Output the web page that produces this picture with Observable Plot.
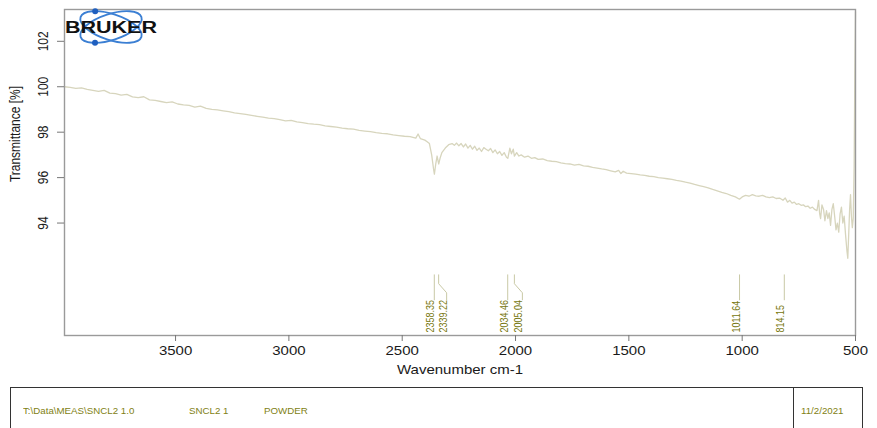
<!DOCTYPE html>
<html><head><meta charset="utf-8">
<script src="https://cdn.jsdelivr.net/npm/d3@7"></script>
<script src="https://cdn.jsdelivr.net/npm/@observablehq/plot@0.6"></script>
<style>
body{margin:0;background:#fff;font-family:"Liberation Sans",Arial,sans-serif;}
#wrap{position:relative;width:877px;height:428px;overflow:hidden;}
#footer{position:absolute;left:10px;top:387px;width:853px;height:60px;border:1px solid #333;border-bottom:none;box-sizing:border-box;}
#footer .sep{position:absolute;left:782px;top:0;bottom:0;border-left:1px solid #333;}
#footer span{position:absolute;top:18px;font-size:9px;line-height:10px;color:#7f7f14;white-space:pre;transform-origin:0 50%;transform:scaleX(1.08);}
</style></head><body>
<div id="wrap"><div id="chart"></div><div id="footer"><div class="sep"></div></div></div>
<script>
// ---- data ----
const wavenumber = [3990,3965,3940,3915,3890,3865,3840,3815,3790,3765,3740,3715,3690,3665,3640,3615,3590,3565,3540,3515,3490,3465,3440,3415,3390,3365,3340,3315,3290,3265,3240,3215,3190,3165,3140,3115,3090,3065,3040,3015,2990,2965,2940,2915,2890,2865,2840,2815,2790,2765,2740,2715,2690,2665,2640,2615,2590,2565,2540,2515,2490,2465,2440,2430,2420,2400,2390,2380,2370,2362,2358,2352,2346,2342,2339,2333,2325,2310,2295,2280,2270,2260,2250,2240,2230,2220,2210,2200,2190,2180,2170,2160,2150,2140,2130,2120,2110,2100,2090,2080,2070,2060,2050,2040,2034,2025,2018,2010,2005,1995,1985,1975,1960,1945,1930,1915,1900,1880,1860,1840,1820,1800,1780,1760,1740,1720,1700,1680,1660,1640,1620,1600,1580,1560,1545,1535,1525,1510,1490,1470,1450,1430,1410,1390,1370,1350,1330,1310,1290,1270,1250,1230,1210,1190,1170,1150,1130,1110,1090,1070,1050,1030,1012,1000,985,970,955,940,925,910,895,880,865,850,835,820,810,800,790,780,770,760,750,740,730,720,710,700,690,680,670,663,658,654,648,641,635,628,622,616,610,604,598,592,586,580,574,568,562,556,550,544,538,534,530,526,522,518,514,510,506,503,500];
const transmittance = [100.00,99.97,99.93,99.95,99.88,99.84,99.80,99.84,99.72,99.70,99.63,99.66,99.55,99.52,99.56,99.42,99.40,99.35,99.30,99.33,99.24,99.20,99.18,99.10,99.15,99.05,99.00,98.98,98.94,98.90,98.85,98.82,98.78,98.74,98.70,98.66,98.62,98.60,98.55,98.50,98.52,98.45,98.42,98.38,98.35,98.33,98.28,98.25,98.22,98.18,98.15,98.13,98.08,98.05,98.02,97.98,97.95,97.93,97.88,97.85,97.82,97.80,97.74,97.92,97.72,97.65,97.58,97.50,97.00,96.40,96.15,96.60,96.95,96.75,96.60,96.85,97.10,97.30,97.45,97.50,97.42,97.52,97.40,97.50,97.35,97.48,97.30,97.42,97.25,97.38,97.20,97.30,97.15,97.32,97.25,97.18,97.28,97.10,97.22,97.05,97.15,96.98,97.10,96.90,96.85,97.30,97.05,97.25,96.95,97.10,96.95,97.00,96.90,96.95,96.85,96.88,96.80,96.82,96.75,96.72,96.70,96.65,96.62,96.60,96.55,96.58,96.52,96.50,96.45,96.42,96.38,96.35,96.30,96.25,96.32,96.18,96.28,96.20,96.18,96.15,96.12,96.10,96.06,96.04,96.00,95.98,95.95,95.92,95.88,95.85,95.80,95.76,95.70,95.65,95.60,95.55,95.48,95.42,95.35,95.30,95.22,95.15,95.05,95.15,95.22,95.18,95.25,95.20,95.18,95.22,95.15,95.12,95.15,95.08,95.10,95.00,95.10,94.92,95.00,94.88,94.92,94.82,94.85,94.78,94.80,94.72,94.75,94.65,94.70,94.60,94.55,95.00,94.40,94.20,94.80,94.60,94.10,94.55,94.20,94.45,93.90,94.60,94.85,94.30,93.70,94.00,93.60,94.40,94.70,94.00,94.30,93.50,92.80,92.45,93.50,94.60,95.25,94.30,93.80,94.20,96.50,100.50,103.30];
const peakPositions = [2358.35, 2339.22, 2034.46, 2005.04, 1011.64, 814.15];
const peakLabelText = ["2358.35", "2339.22", "2034.46", "2005.04", "1011.64", "814.15"];
const peakShifted = [false, true, false, true, false, false];
const xTicks = [3500, 3000, 2500, 2000, 1500, 1000, 500];
const yTicks = [94, 96, 98, 100, 102];
const footerFields = ["T:\\Data\\MEAS\\SNCL2 1.0", "SNCL2 1", "POWDER"];
const footerDate = "11/2/2021";

// ---- layout ----
const W = 877, H = 380, mL = 64, mR = 22, mT = 9, mB = 45;
const xDomain = [3990, 500], yDomain = [89.05, 103.4];
const pxPerWn = (W - mL - mR) / (xDomain[0] - xDomain[1]);
const shiftWn = 8 / pxPerWn;
const leaderTop = 91.72, bendTop = 91.33, bendBot = 90.93, leaderBot = 90.62;
const FONT = '"Liberation Sans", Arial, sans-serif';

const spectrum = wavenumber.map((w, i) => ({wn: w, t: transmittance[i]}));
const peaks = peakPositions.map((p, i) => ({
  id: i, peak: p, label: peakLabelText[i],
  lx: peakShifted[i] ? p - shiftWn : p
}));
const connectors = peaks.flatMap(d => d.lx === d.peak
  ? [{id: d.id, x: d.peak, y: leaderTop}, {id: d.id, x: d.peak, y: leaderBot}]
  : [{id: d.id, x: d.peak, y: leaderTop}, {id: d.id, x: d.peak, y: bendTop},
     {id: d.id, x: d.lx, y: bendBot}, {id: d.id, x: d.lx, y: leaderBot}]);

const chart = Plot.plot({
  width: W, height: H,
  marginLeft: mL, marginRight: mR, marginTop: mT, marginBottom: mB,
  style: {fontFamily: FONT, fontSize: "12px", color: "#1a1a1a", background: "#fff"},
  x: {domain: xDomain},
  y: {domain: yDomain},
  marks: [
    Plot.line(spectrum, {x: "wn", y: "t", stroke: "#d7d5bd", strokeWidth: 1.3}),
    Plot.line(connectors, {x: "x", y: "y", z: "id", stroke: "#c9c9a6", strokeWidth: 1}),
    Plot.text(peaks, {x: "lx", frameAnchor: "bottom", dy: -3, text: "label", rotate: -90, textAnchor: "start", fill: "#76760c", fontSize: 9}),
    Plot.frame({stroke: "#9a9a9a", strokeWidth: 1.4}),
    Plot.axisX({ticks: xTicks, tickFormat: d => String(d), tickSize: 6, tickPadding: 5, stroke: "#777", fontSize: 12.5,
      label: "Wavenumber cm-1", labelAnchor: "center", labelOffset: 38, labelArrow: "none"}),
    Plot.axisY({ticks: yTicks, tickFormat: d => String(d), tickSize: 7, tickRotate: -90, tickPadding: 10, stroke: "#777", fontSize: 12, label: null})
  ]
});
document.getElementById("chart").appendChild(chart);
const svg = d3.select(chart);

// horizontal stretch of text (the reference is widened)
function num(v) { const n = parseFloat(v); return isFinite(n) ? n : 0; }
function stretch(el, k) {
  const t = el.getAttribute("transform") || "";
  let ax = 0;
  const m = t.match(/^\s*translate\(\s*([-\d.e]+)/);
  if (m) ax = num(m[1]);
  if (!/rotate/.test(t)) ax += num(el.getAttribute("x"));
  el.setAttribute("transform", `translate(${ax},0) scale(${k},1) translate(${-ax},0) ${t}`);
}
svg.selectAll("text").each(function() { stretch(this, 1.2); });

// y-axis title
svg.append("text").attr("transform", "translate(20,134) scale(1.2,1) rotate(-90)")
  .attr("text-anchor", "middle").attr("font-size", 12).attr("fill", "#1a1a1a")
  .attr("font-family", FONT).text("Transmittance [%]");

// Bruker logo
const logo = svg.append("g");
const cx = 111, cy = 27, rx = 32, ry = 13, th = 18;
[th, -th].forEach(a => {
  logo.append("ellipse").attr("cx", cx).attr("cy", cy).attr("rx", rx).attr("ry", ry)
    .attr("transform", `rotate(${a},${cx},${cy})`)
    .attr("fill", "none").attr("stroke", "#3b7fd3").attr("stroke-width", 1.8);
});
[[th, -1], [-th, 1]].forEach(([a, s]) => {
  const r = a * Math.PI / 180;
  let best = null;
  for (let t = 0; t < 2 * Math.PI; t += 0.01) {
    const X = rx * Math.cos(t) * Math.cos(r) - ry * Math.sin(t) * Math.sin(r);
    const Y = rx * Math.cos(t) * Math.sin(r) + ry * Math.sin(t) * Math.cos(r);
    if (!best || s * Y > s * best[1]) best = [X, Y];
  }
  logo.append("circle").attr("cx", cx + best[0]).attr("cy", cy + best[1]).attr("r", 3).attr("fill", "#1f5fbf");
});
logo.append("text").attr("x", 65).attr("y", 33).attr("text-anchor", "start")
  .attr("font-size", 16).attr("font-weight", "bold")
  .attr("font-family", FONT).attr("fill", "#111")
  .attr("textLength", 92).attr("lengthAdjust", "spacingAndGlyphs").text("BRUKER");

// footer
const footer = document.getElementById("footer");
const lefts = [12, 178, 253];
footerFields.forEach((f, i) => {
  const s = document.createElement("span"); s.textContent = f; s.style.left = lefts[i] + "px"; footer.appendChild(s);
});
const ds = document.createElement("span"); ds.textContent = footerDate; ds.style.left = "790px"; footer.appendChild(ds);
</script>
</body></html>
